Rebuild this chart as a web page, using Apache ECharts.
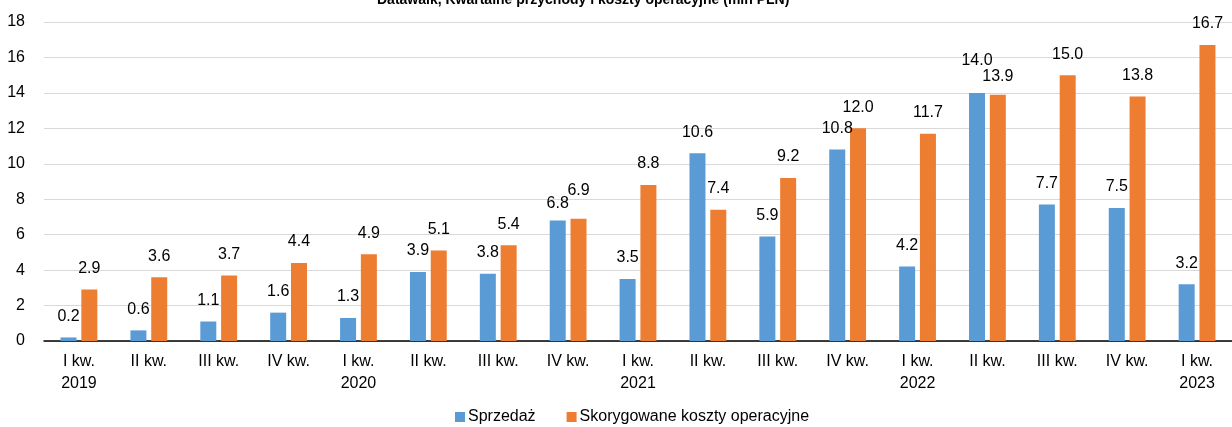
<!DOCTYPE html>
<html>
<head>
<meta charset="utf-8">
<script src="https://cdn.jsdelivr.net/npm/echarts@6/dist/echarts.min.js"></script>
<style>
  html, body { margin: 0; padding: 0; background: #fff; }
  #container { width: 1232px; height: 427px; }
</style>
</head>
<body>
<div id="container"></div>
<script>
// kwartaly
var quarters = ['I kw.\n2019', 'II kw.', 'III kw.', 'IV kw.',
    'I kw.\n2020', 'II kw.', 'III kw.', 'IV kw.',
    'I kw.\n2021', 'II kw.', 'III kw.', 'IV kw.',
    'I kw.\n2022', 'II kw.', 'III kw.', 'IV kw.',
    'I kw.\n2023'];
var sales = [0.2, 0.6, 1.1, 1.6, 1.3, 3.9, 3.8, 6.8, 3.5, 10.6, 5.9, 10.8, 4.2, 14.0, 7.7, 7.5, 3.2];
var costs = [2.9, 3.6, 3.7, 4.4, 4.9, 5.1, 5.4, 6.9, 8.8, 7.4, 9.2, 12.0, 11.7, 13.9, 15.0, 13.8, 16.7];
var seriesNames = ['Sprzedaż', 'Skorygowane koszty operacyjne'];

var font = '"Liberation Sans", Arial, sans-serif';
var myChart = echarts.init(document.getElementById('container'));

// etykiety przesuniete recznie jak w oryginale (indeks -> przesuniecie w px)
var nudgeSales = {7: 4, 13: -11};
var nudgeCosts = {7: -7, 13: 3};

function barData(values, nudge) {
    return values.map(function (v, i) {
        if (nudge[i] === undefined) return v;
        return {value: v, label: {offset: [0, nudge[i]]}};
    });
}

function barLabel() {
    return {
        show: true,
        position: 'top',
        distance: 13,
        color: '#000',
        fontSize: 16,
        fontFamily: font,
        formatter: function (p) {
            return p.value.toFixed(1);
        }
    };
}

var option = {
    animation: false,
    title: {
        text: 'Datawalk, Kwartalne przychody i koszty operacyjne (mln PLN)',
        left: 372,
        top: -12,
        textStyle: {fontSize: 14, fontWeight: 'bold', color: '#000', fontFamily: font}
    },
    legend: {
        data: seriesNames,
        left: 450,
        top: 404,
        itemWidth: 10,
        itemHeight: 10,
        itemGap: 31,
        icon: 'rect',
        textStyle: {fontSize: 16, color: '#000', fontFamily: font, padding: [0, 0, 0, -2]}
    },
    grid: {left: 44, right: -8, top: 22, bottom: 86},
    xAxis: {
        type: 'category',
        data: quarters,
        axisLine: {lineStyle: {color: '#000', width: 1.5}},
        axisTick: {show: false},
        axisLabel: {
            interval: 0,
            margin: 10,
            fontSize: 16,
            lineHeight: 22,
            color: '#000',
            fontFamily: font
        }
    },
    yAxis: {
        type: 'value',
        min: 0,
        max: 18,
        interval: 2,
        axisLine: {show: false},
        axisTick: {show: false},
        splitLine: {lineStyle: {color: '#d9d9d9', width: 1}},
        axisLabel: {fontSize: 16, color: '#000', margin: 19, fontFamily: font}
    },
    series: [
        {
            name: seriesNames[0],
            type: 'bar',
            data: barData(sales, nudgeSales),
            barWidth: 16,
            barGap: '30%',
            itemStyle: {color: '#5b9bd5'},
            label: barLabel()
        },
        {
            name: seriesNames[1],
            type: 'bar',
            data: barData(costs, nudgeCosts),
            barWidth: 16,
            itemStyle: {color: '#ed7d31'},
            label: barLabel()
        }
    ]
};

myChart.setOption(option);
</script>
</body>
</html>
